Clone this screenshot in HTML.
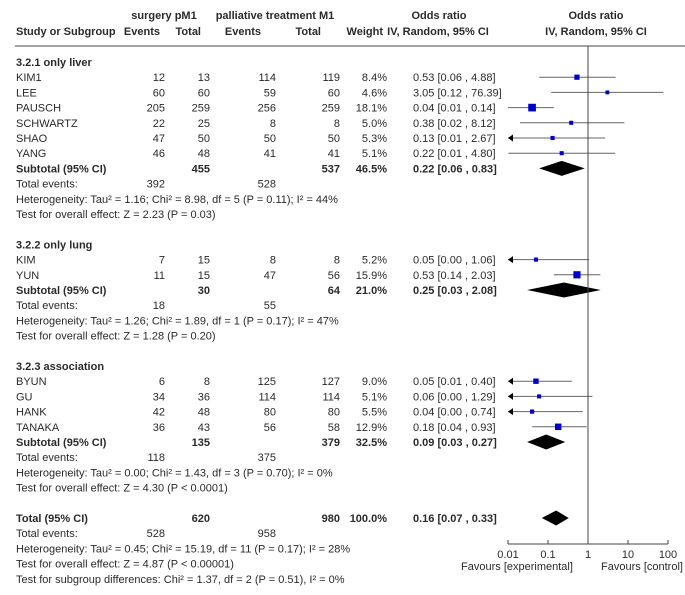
<!DOCTYPE html>
<html><head><meta charset="utf-8">
<style>
body{margin:0;background:#fff;}
svg text{font-family:"Liberation Sans",Arial,sans-serif;font-size:11px;fill:#2a2a2a;}
.b{font-weight:bold;}
</style></head>
<body>
<svg id="chart" width="685" height="590" viewBox="0 0 685 590" xmlns="http://www.w3.org/2000/svg">
<g id="hdr">
<text x="164" y="19" text-anchor="middle" class="b">surgery pM1</text>
<text x="275" y="19" text-anchor="middle" class="b">palliative treatment M1</text>
<text x="439" y="19" text-anchor="middle" class="b">Odds ratio</text>
<text x="596" y="19" text-anchor="middle" class="b">Odds ratio</text>
<text x="16" y="35" class="b">Study or Subgroup</text>
<text x="160" y="35" text-anchor="end" class="b">Events</text>
<text x="201" y="35" text-anchor="end" class="b">Total</text>
<text x="261" y="35" text-anchor="end" class="b">Events</text>
<text x="321" y="35" text-anchor="end" class="b">Total</text>
<text x="383" y="35" text-anchor="end" class="b">Weight</text>
<text x="438" y="35" text-anchor="middle" class="b">IV, Random, 95% CI</text>
<text x="596" y="35" text-anchor="middle" class="b">IV, Random, 95% CI</text>
<line x1="15" y1="46" x2="685" y2="46" stroke="#444" stroke-width="1"/>
</g>
<g id="rows"></g>
<g id="plot"></g>
</svg>
<script>
// study-level data
const studies = ["KIM1","LEE","PAUSCH","SCHWARTZ","SHAO","YANG","KIM","YUN","BYUN","GU","HANK","TANAKA"];
const groupOf = [0,0,0,0,0,0,1,1,2,2,2,2];
const ev1 = [12,60,205,22,47,46,7,11,6,34,42,36];
const tot1 = [13,60,259,25,50,48,15,15,8,36,48,43];
const ev2 = [114,59,256,8,50,41,8,47,125,114,80,56];
const tot2 = [119,60,259,8,50,41,8,56,127,114,80,58];
const weights = [8.4,4.6,18.1,5.0,5.3,5.1,5.2,15.9,9.0,5.1,5.5,12.9];
const orVal = [0.53,3.05,0.04,0.38,0.13,0.22,0.05,0.53,0.05,0.06,0.04,0.18];
const orLo = [0.06,0.12,0.01,0.02,0.009,0.0102,0.00,0.14,0.009,0.00,0.00,0.04];
const orHi = [4.88,76.39,0.14,8.12,2.67,4.80,1.06,2.03,0.40,1.29,0.74,0.93];
const ciText = ["0.53 [0.06 , 4.88]","3.05 [0.12 , 76.39]","0.04 [0.01 , 0.14]","0.38 [0.02 , 8.12]","0.13 [0.01 , 2.67]","0.22 [0.01 , 4.80]","0.05 [0.00 , 1.06]","0.53 [0.14 , 2.03]","0.05 [0.01 , 0.40]","0.06 [0.00 , 1.29]","0.04 [0.00 , 0.74]","0.18 [0.04 , 0.93]"];
// subgroup data
const groupNames = ["3.2.1 only liver","3.2.2 only lung","3.2.3 association"];
const subTot1 = [455,30,135];
const subTot2 = [537,64,379];
const subW = ["46.5%","21.0%","32.5%"];
const subOr = [0.22,0.25,0.09];
const subLo = [0.06,0.03,0.03];
const subHi = [0.83,2.08,0.27];
const subTxt = ["0.22 [0.06 , 0.83]","0.25 [0.03 , 2.08]","0.09 [0.03 , 0.27]"];
const subEv1 = [392,18,118];
const subEv2 = [528,55,375];
const hetTxt = ["Heterogeneity: Tau² = 1.16; Chi² = 8.98, df = 5 (P = 0.11); I² = 44%","Heterogeneity: Tau² = 1.26; Chi² = 1.89, df = 1 (P = 0.17); I² = 47%","Heterogeneity: Tau² = 0.00; Chi² = 1.43, df = 3 (P = 0.70); I² = 0%"];
const effTxt = ["Test for overall effect: Z = 2.23 (P = 0.03)","Test for overall effect: Z = 1.28 (P = 0.20)","Test for overall effect: Z = 4.30 (P < 0.0001)"];
// overall
const totOr = 0.16, totLo = 0.07, totHi = 0.33;
const tickVals = [0.01,0.1,1,10,100];
const tickLabels = ["0.01","0.1","1","10","100"];

const NS="http://www.w3.org/2000/svg";
const rowsG=document.getElementById('rows'), plotG=document.getElementById('plot');
const X0=588, DEC=40, XMIN=508, XMAX=668;
function xs(v){ if(v<=0) return -1e9; return X0+DEC*Math.log10(v); }
function mk(tag,attrs,parent){const e=document.createElementNS(NS,tag);for(const k in attrs)e.setAttribute(k,attrs[k]);parent.appendChild(e);return e;}
function txt(x,y,s,anchor,bold,name){const t=mk('text',{x:x,y:y},rowsG);if(anchor)t.setAttribute('text-anchor',anchor);if(bold)t.setAttribute('class','b');t.textContent=s;


return t;}
function diamond(c,lo,hi,y,name){const p=mk('polygon',{points:`${xs(lo)},${y} ${xs(c)},${y-7.5} ${xs(hi)},${y} ${xs(c)},${y+7.5}`,fill:'#000'},plotG);

}
const RH=15.2;
let y=62;
for(let g=0;g<3;g++){
  txt(16,y+4,groupNames[g],null,true,'subgroup-title');
  y+=RH;
  for(let i=0;i<studies.length;i++){ if(groupOf[i]!==g) continue;
    txt(16,y+4,studies[i],null,false,'study-name');
    txt(165,y+4,ev1[i],'end',false,'surgery-events');
    txt(210,y+4,tot1[i],'end',false,'surgery-total');
    txt(276,y+4,ev2[i],'end',false,'palliative-events');
    txt(340,y+4,tot2[i],'end',false,'palliative-total');
    txt(387,y+4,weights[i].toFixed(1)+'%','end',false,'weight');
    txt(413,y+4,ciText[i],null,false,'odds-ratio-ci');
    const xl=Math.max(xs(orLo[i]),XMIN), xh=Math.min(xs(orHi[i]),XMAX);
    const ln=mk('line',{x1:xl,y1:y,x2:xh,y2:y,stroke:'#666','stroke-width':1},plotG);
    
    
    if(orLo[i]<0.01){const a=mk('polygon',{points:`${XMIN},${y} ${XMIN+5},${y-3.5} ${XMIN+5},${y+3.5}`,fill:'#000'},plotG);
      
      }
    const s=1.8*Math.sqrt(weights[i]);
    const sq=mk('rect',{x:xs(orVal[i])-s/2,y:y-s/2,width:s,height:s,fill:'#0000cc'},plotG);
    
    
    y+=RH;
  }
  txt(16,y+4,'Subtotal (95% CI)',null,true,'subtotal-label');
  txt(210,y+4,subTot1[g],'end',true,'subtotal-surgery');
  txt(340,y+4,subTot2[g],'end',true,'subtotal-palliative');
  txt(387,y+4,subW[g],'end',true,'subtotal-weight');
  txt(413,y+4,subTxt[g],null,true,'subtotal-ci');
  diamond(subOr[g],subLo[g],subHi[g],y,'subtotal-diamond');
  y+=RH;
  txt(16,y+4,'Total events:',null,false,'total-events-label');
  txt(165,y+4,subEv1[g],'end',false,'total-events-surgery');
  txt(276,y+4,subEv2[g],'end',false,'total-events-palliative');
  y+=RH; txt(16,y+4,hetTxt[g],null,false,'heterogeneity');
  y+=RH; txt(16,y+4,effTxt[g],null,false,'overall-effect-test');
  y+=RH*2;
}
txt(16,y+4,'Total (95% CI)',null,true,'total-label');
txt(210,y+4,'620','end',true,'total-surgery');
txt(340,y+4,'980','end',true,'total-palliative');
txt(387,y+4,'100.0%','end',true,'total-weight');
txt(413,y+4,'0.16 [0.07 , 0.33]',null,true,'total-ci');
diamond(totOr,totLo,totHi,y,'total-diamond');
y+=RH; txt(16,y+4,'Total events:',null,false,'total-events-label');
txt(165,y+4,'528','end',false,'total-events-surgery');
txt(276,y+4,'958','end',false,'total-events-palliative');
y+=RH; txt(16,y+4,'Heterogeneity: Tau² = 0.45; Chi² = 15.19, df = 11 (P = 0.17); I² = 28%',null,false,'heterogeneity');
y+=RH; txt(16,y+4,'Test for overall effect: Z = 4.87 (P < 0.00001)',null,false,'overall-effect-test');
y+=RH; txt(16,y+4,'Test for subgroup differences: Chi² = 1.37, df = 2 (P = 0.51), I² = 0%',null,false,'subgroup-differences-test');

// axis
const AY=544;
const vl=mk('line',{x1:X0,y1:46,x2:X0,y2:AY,stroke:'#444','stroke-width':1},plotG);


const ax=mk('line',{x1:xs(tickVals[0]),y1:AY,x2:xs(tickVals[tickVals.length-1]),y2:AY,stroke:'#444','stroke-width':1},plotG);


for(let i=0;i<tickVals.length;i++){
  const tk=mk('line',{x1:xs(tickVals[i]),y1:AY-4,x2:xs(tickVals[i]),y2:AY,stroke:'#444'},plotG);
  
  
  const t=mk('text',{x:xs(tickVals[i]),y:AY+14,'text-anchor':'middle'},plotG);
  t.textContent=tickLabels[i];
  
  
}
const f1=mk('text',{x:517,y:AY+26,'text-anchor':'middle'},plotG); f1.textContent='Favours [experimental]';


const f2=mk('text',{x:642,y:AY+26,'text-anchor':'middle'},plotG); f2.textContent='Favours [control]';


</script>
</body></html>
